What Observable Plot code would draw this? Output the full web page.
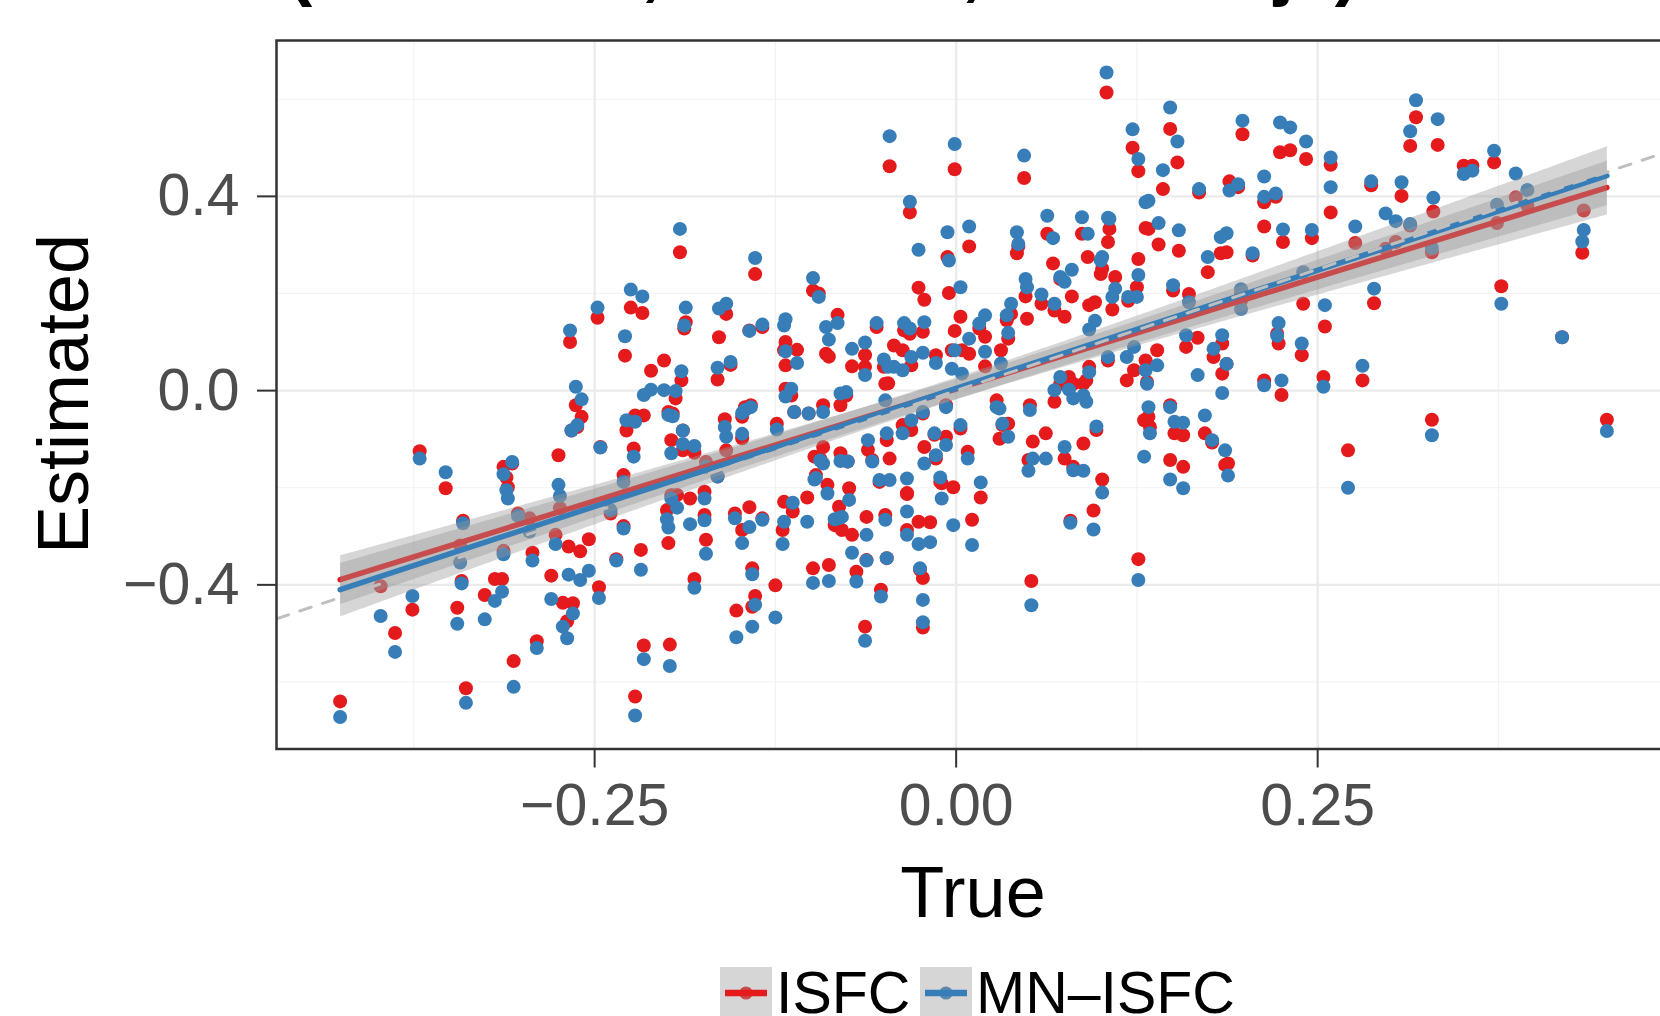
<!DOCTYPE html>
<html>
<head>
<meta charset="utf-8">
<script src="https://cdn.jsdelivr.net/npm/d3@7"></script>
<script src="https://cdn.jsdelivr.net/npm/@observablehq/plot@0.6"></script>
<style>
html, body { margin: 0; padding: 0; background: #fff; overflow: hidden; }
#wrap { position: relative; width: 1660px; height: 1016px; overflow: hidden;
  font-family: "Liberation Sans", Arial, Helvetica, sans-serif; color: #000; }
#chart { position: absolute; left: 0; top: 0; width: 1680px; }
#chart svg { max-width: none !important; }
#title { position: absolute; left: 288px; top: -70px; font-size: 73px; line-height: 73px;
  font-weight: bold; white-space: nowrap; }
#ylab { position: absolute; left: -237px; top: 358px; width: 600px; height: 72px;
  line-height: 72px; font-size: 72px; text-align: center; transform: rotate(-90deg); }
#xlab { position: absolute; left: 773px; top: 856px; width: 400px; font-size: 72px;
  line-height: 72px; text-align: center; }
.lkey { position: absolute; top: 967px; width: 52px; height: 52px; }
.ltxt { position: absolute; top: 968px; font-size: 59px; line-height: 50px; white-space: nowrap; }
#chart g[aria-label$="tick label"] { fill: #4d4d4d; }
</style>
</head>
<body>
<div id="wrap">
  <div id="chart"></div>
  <div id="title">(Gaussian, 300 TRs, 300 subjs)</div>
  <div id="ylab">Estimated</div>
  <div id="xlab">True</div>
  <div id="legend"></div>
</div>
<script>
// ---- data ----
const methods = ["ISFC", "MN\u2013ISFC"];
const methodColors = ["#e41a1c", "#377eb8"];

const trueValues = [
  // left / lower-left
  -0.426,-0.398,-0.388,-0.376,-0.371,-0.353,-0.343,-0.345,-0.342,-0.341,
  -0.339,-0.326,-0.319,-0.314,-0.313,-0.313,-0.311,-0.310,-0.307,-0.306,
  -0.303,-0.295,-0.293,-0.290,-0.280,-0.277,-0.275,-0.274,-0.272,-0.269,
  -0.265,-0.268,-0.260,-0.254,-0.247,-0.239,-0.235,-0.230,-0.230,-0.222,
  -0.218,-0.216,-0.198,-0.200,-0.199,-0.197,-0.193,-0.184,-0.181,-0.174,
  -0.174,-0.173,-0.165,-0.152,-0.153,-0.148,
  // left / upper
  -0.267,-0.263,-0.259,-0.266,-0.262,-0.248,-0.246,-0.229,-0.225,-0.217,
  -0.222,-0.216,-0.228,-0.223,-0.211,-0.202,-0.194,-0.199,-0.196,-0.191,
  -0.190,-0.188,-0.187,-0.197,-0.189,-0.189,-0.181,-0.173,-0.164,-0.159,
  -0.165,-0.156,-0.159,-0.160,-0.148,-0.148,
  // centre / upper
  -0.139,-0.143,-0.134,-0.118,-0.119,-0.118,-0.110,-0.099,-0.095,-0.090,
  -0.082,-0.088,-0.072,-0.063,-0.063,-0.055,-0.050,-0.043,-0.037,-0.047,
  -0.046,-0.032,-0.036,-0.032,-0.031,-0.026,-0.022,-0.023,-0.014,-0.006,
  -0.005,0.003,-0.001,-0.001,-0.003,0.004,0.009,0.016,0.020,0.009,
  0.020,0.035,0.036,0.031,0.038,0.042,0.043,0.047,0.048,0.049,
  0.059,0.063,0.067,0.068,0.072,0.075,0.080,0.087,0.091,0.092,
  0.096,0.100,0.101,0.105,0.106,0.110,0.108,0.104,0.122,0.126,
  0.126,0.125,0.119,0.131,0.133,0.140,0.143,0.148,0.153,0.154,
  0.150,0.161,0.168,0.174,
  // centre / middle
  -0.146,-0.142,-0.118,-0.114,-0.112,-0.102,-0.092,-0.080,-0.076,-0.049,
  -0.031,-0.023,-0.015,-0.007,0.028,0.032,0.051,0.068,0.072,0.078,
  0.081,0.088,0.090,0.092,0.105,0.118,0.123,0.131,0.139,0.132,
  0.133,0.148,0.159,0.167,0.172,0.151,0.134,
  // centre / lower
  -0.141,-0.139,-0.141,-0.125,-0.143,-0.134,-0.119,-0.120,-0.113,-0.103,
  -0.099,-0.088,-0.098,-0.089,-0.081,-0.084,-0.079,-0.074,-0.072,-0.069,
  -0.062,-0.062,-0.063,-0.052,-0.048,-0.049,-0.034,-0.034,-0.026,-0.025,
  -0.023,-0.023,-0.018,-0.010,-0.002,0.011,0.017,0.003,0.008,0.052,
  0.079,0.095,0.101,0.126,0.130,0.148,0.157,0.157,0.030,0.036,
  0.050,0.053,0.062,0.075,0.081,0.088,0.097,-0.124,-0.092,-0.094,
  -0.097,-0.080,-0.075,-0.061,-0.058,-0.053,-0.046,-0.048,-0.037,-0.034,
  -0.022,-0.014,-0.011,-0.007,
  // right
  0.198,0.224,0.231,0.242,0.259,0.259,0.189,0.195,0.213,0.213,
  0.221,0.226,0.246,0.183,0.187,0.205,0.276,0.287,0.297,0.304,
  0.308,0.314,0.318,0.333,0.330,0.329,0.351,0.357,0.372,0.387,
  0.395,0.374,0.434,0.433,0.377,0.419,0.289,0.281,0.254,0.255,
  0.240,0.239,0.223,0.225,0.213,0.197,0.197,0.184,0.184,0.187,
  0.178,0.314,0.450,0.329,0.271,0.188,0.186,0.177,0.222
];

const isfcValues = [
  -0.640,-0.403,-0.499,-0.451,-0.125,-0.201,-0.319,-0.447,-0.392,-0.268,
  -0.613,-0.421,-0.388,-0.388,-0.330,-0.157,-0.179,-0.199,-0.150,-0.557,
  -0.253,-0.263,-0.334,-0.516,-0.381,-0.297,-0.133,-0.242,-0.437,-0.475,
  -0.438,-0.321,-0.331,-0.306,-0.405,-0.253,-0.347,-0.174,-0.279,-0.630,
  -0.328,-0.525,-0.523,-0.246,-0.314,-0.215,-0.215,-0.222,-0.388,-0.208,
  -0.256,-0.307,-0.177,-0.453,-0.253,-0.287,
  0.100,-0.030,-0.054,-0.082,-0.075,0.150,-0.116,0.072,0.171,0.160,
  -0.051,-0.051,-0.082,-0.119,0.041,0.062,-0.016,-0.044,-0.047,0.285,
  0.021,0.128,0.141,-0.102,-0.082,-0.123,-0.128,-0.147,0.110,0.158,
  0.023,0.053,-0.123,-0.059,-0.054,-0.098,
  0.240,0.124,0.131,0.100,0.083,0.052,0.084,0.206,0.200,0.076,
  0.156,0.070,0.050,0.073,0.049,0.131,0.049,0.093,0.083,0.015,
  0.462,0.367,0.124,0.117,0.052,0.212,0.187,0.121,0.073,0.275,
  0.201,0.152,0.456,0.123,0.083,0.083,0.297,0.128,0.111,0.076,
  0.050,0.145,0.107,0.083,0.158,0.283,0.297,0.438,0.194,0.148,
  0.179,0.323,0.262,0.165,0.230,0.152,0.194,0.323,0.275,0.176,
  0.182,0.240,0.251,0.306,0.333,0.234,0.167,0.614,0.500,0.452,
  0.271,0.213,0.185,0.335,0.333,0.301,0.415,0.539,0.470,0.288,
  0.206,0.199,0.408,0.244,
  -0.034,-0.030,0.004,-0.010,-0.044,-0.047,-0.030,-0.030,-0.010,0.014,
  -0.081,-0.047,-0.091,-0.030,-0.020,-0.071,-0.030,-0.023,0.014,0.028,
  0.014,0.014,0.021,0.049,0.062,0.021,0.042,0.062,0.083,0.018,
  -0.054,-0.030,0.090,0.109,-0.088,-0.088,-0.075,
  -0.366,-0.423,-0.445,-0.401,-0.240,-0.263,-0.229,-0.287,-0.249,-0.220,
  -0.366,-0.359,-0.136,-0.194,-0.239,-0.277,-0.287,-0.201,-0.297,-0.373,
  -0.349,-0.260,-0.486,-0.410,-0.345,-0.256,-0.287,-0.213,-0.270,-0.369,
  -0.386,-0.488,-0.271,-0.191,-0.199,-0.266,-0.220,-0.078,-0.126,-0.392,
  -0.268,-0.247,-0.183,-0.347,-0.061,-0.143,-0.157,-0.092,-0.099,-0.068,
  -0.143,-0.105,-0.088,-0.140,-0.157,-0.109,-0.081,-0.068,-0.116,-0.140,
  -0.174,-0.129,-0.146,-0.122,-0.143,-0.188,-0.140,-0.102,-0.071,-0.211,
  -0.116,-0.140,-0.188,-0.095,
  0.528,0.491,0.495,0.477,0.465,0.367,0.431,0.419,0.388,0.338,
  0.399,0.306,0.314,0.283,0.285,0.278,0.304,0.423,0.292,0.306,
  0.401,0.504,0.563,0.506,0.369,0.285,0.463,0.463,0.470,0.398,
  0.381,0.345,0.371,0.284,0.215,0.110,0.180,0.021,0.028,0.132,
  0.179,0.073,0.097,-0.009,0.021,0.199,0.185,0.097,0.035,0.055,
  0.069,0.340,-0.060,-0.060,-0.123,-0.150,-0.153,-0.107,0.117
];

const mnIsfcValues = [
  -0.672,-0.464,-0.538,-0.423,-0.140,-0.168,-0.354,-0.480,-0.397,-0.273,
  -0.643,-0.471,-0.433,-0.414,-0.337,-0.172,-0.205,-0.222,-0.147,-0.610,
  -0.258,-0.290,-0.350,-0.530,-0.429,-0.316,-0.194,-0.217,-0.486,-0.510,
  -0.459,-0.379,-0.390,-0.371,-0.427,-0.246,-0.350,-0.188,-0.284,-0.669,
  -0.369,-0.553,-0.567,-0.265,-0.282,-0.222,-0.241,-0.275,-0.406,-0.222,
  -0.267,-0.336,-0.177,-0.508,-0.263,-0.314,
  0.124,0.008,-0.018,-0.082,-0.071,0.171,-0.117,0.112,0.208,0.194,
  -0.064,-0.009,-0.061,-0.136,0.002,0.001,-0.001,-0.050,-0.053,0.333,
  0.040,0.134,0.171,-0.129,-0.082,-0.110,-0.114,-0.157,0.169,0.179,
  0.047,0.059,-0.095,-0.075,-0.046,-0.089,
  0.273,0.123,0.136,0.147,0.134,0.081,0.057,0.232,0.193,0.131,
  0.139,0.105,0.086,0.099,0.032,0.139,0.064,0.049,0.042,0.049,
  0.524,0.389,0.139,0.128,0.069,0.290,0.141,0.078,0.057,0.326,
  0.268,0.213,0.508,0.083,0.045,0.035,0.338,0.138,0.155,0.107,
  0.080,0.155,0.119,0.056,0.179,0.326,0.302,0.484,0.230,0.213,
  0.198,0.360,0.314,0.179,0.234,0.224,0.249,0.357,0.323,0.126,
  0.144,0.268,0.275,0.356,0.354,0.210,0.193,0.655,0.538,0.477,
  0.238,0.193,0.193,0.388,0.391,0.345,0.454,0.583,0.513,0.330,
  0.217,0.182,0.415,0.275,
  -0.040,-0.034,-0.012,0.004,-0.044,-0.047,-0.044,-0.006,-0.003,-0.020,
  -0.061,-0.044,-0.088,-0.034,-0.034,-0.068,-0.040,0.001,0.028,0.002,
  -0.016,-0.010,-0.023,0.038,0.069,0.069,0.090,0.042,0.052,0.014,
  -0.034,-0.034,0.114,0.032,-0.051,-0.064,-0.088,
  -0.378,-0.441,-0.486,-0.467,-0.281,-0.266,-0.270,-0.316,-0.231,-0.270,
  -0.396,-0.392,-0.183,-0.212,-0.263,-0.265,-0.260,-0.225,-0.334,-0.393,
  -0.350,-0.297,-0.515,-0.424,-0.345,-0.266,-0.297,-0.249,-0.316,-0.366,
  -0.431,-0.477,-0.312,-0.222,-0.277,-0.318,-0.189,-0.071,-0.140,-0.442,
  -0.272,-0.286,-0.210,-0.390,-0.136,-0.183,-0.201,-0.066,-0.037,-0.095,
  -0.165,-0.140,-0.140,-0.116,-0.164,-0.165,-0.074,-0.080,-0.150,-0.144,
  -0.180,-0.145,-0.146,-0.102,-0.146,-0.184,-0.184,-0.088,-0.088,-0.181,
  -0.150,-0.133,-0.179,-0.112,
  0.556,0.552,0.542,0.513,0.480,0.419,0.412,0.425,0.441,0.399,
  0.406,0.332,0.331,0.316,0.324,0.283,0.338,0.431,0.365,0.349,
  0.429,0.534,0.598,0.559,0.397,0.294,0.446,0.453,0.494,0.447,
  0.413,0.383,0.331,0.307,0.179,0.110,0.210,0.051,0.008,0.176,
  0.244,0.097,0.139,0.021,0.011,0.209,0.168,0.114,-0.005,0.055,
  0.086,0.343,-0.083,-0.092,-0.200,-0.175,-0.123,-0.102,0.113
];

const xTicks = [-0.25, 0, 0.25];
const xMinorTicks = [-0.375, -0.125, 0.125, 0.375];
const yTicks = [-0.4, 0, 0.4];
const yMinorTicks = [-0.6, -0.2, 0.2, 0.6];
const identitySpan = [-0.8, 0.8];   // y = x reference line

if (trueValues.length !== isfcValues.length || trueValues.length !== mnIsfcValues.length) {
  throw new Error("length mismatch " + trueValues.length + " " + isfcValues.length + " " + mnIsfcValues.length);
}

// long table: ISFC first (drawn underneath), MN-ISFC second
const rows = [];
trueValues.forEach((t, i) => rows.push({truth: t, estimate: isfcValues[i], method: methods[0]}));
trueValues.forEach((t, i) => rows.push({truth: t, estimate: mnIsfcValues[i], method: methods[1]}));

const chart = Plot.plot({
  width: 1680,
  height: 940,
  marginTop: 40,
  marginLeft: 276,
  marginRight: 10,
  marginBottom: 191.5,
  x: {domain: [-0.470, 0.494]},
  y: {domain: [-0.738, 0.721]},
  color: {domain: methods, range: methodColors},
  style: {fontFamily: '"Liberation Sans", Arial, Helvetica, sans-serif', background: "white", maxWidth: "none"},
  marks: [
    Plot.gridX(xMinorTicks, {stroke: "#f2f2f2", strokeOpacity: 1, strokeWidth: 1.2}),
    Plot.gridY(yMinorTicks, {stroke: "#f2f2f2", strokeOpacity: 1, strokeWidth: 1.2}),
    Plot.gridX(xTicks, {stroke: "#ebebeb", strokeOpacity: 1, strokeWidth: 2.4}),
    Plot.gridY(yTicks, {stroke: "#ebebeb", strokeOpacity: 1, strokeWidth: 2.4}),
    Plot.dot(rows, {x: "truth", y: "estimate", fill: "method", r: 7}),
    Plot.linearRegressionY(rows, {x: "truth", y: "estimate", stroke: "method",
      fill: "#999999", fillOpacity: 0.4, strokeWidth: 5.5}),
    Plot.line(identitySpan, {x: d => d, y: d => d, stroke: "#bfbfbf", strokeWidth: 3,
      strokeDasharray: "12,12", clip: true}),
    Plot.frame({stroke: "#333333", strokeWidth: 2.5}),
    Plot.axisX(xTicks, {tickSize: 19, tickPadding: 15, fontSize: 59, tickFormat: d3.format(".2f"),
      stroke: "#333333", strokeWidth: 2, fill: "#4d4d4d", label: null}),
    Plot.axisY(yTicks, {tickSize: 19, tickPadding: 18, fontSize: 59, tickFormat: d3.format(".1f"),
      stroke: "#333333", strokeWidth: 2, fill: "#4d4d4d", label: null})
  ]
});
document.getElementById("chart").appendChild(chart);

// legend below the plot: gray key (smooth fill) with point and line
const legend = document.getElementById("legend");
const keyLefts = [720, 920];
const textLefts = [776, 976];
methods.forEach((m, i) => {
  const ns = "http://www.w3.org/2000/svg";
  const svg = document.createElementNS(ns, "svg");
  svg.setAttribute("class", "lkey");
  svg.setAttribute("width", 52); svg.setAttribute("height", 52);
  svg.style.left = keyLefts[i] + "px";
  const bg = document.createElementNS(ns, "rect");
  bg.setAttribute("width", 52); bg.setAttribute("height", 52); bg.setAttribute("fill", "#ffffff");
  const dot = document.createElementNS(ns, "circle");
  dot.setAttribute("cx", 26); dot.setAttribute("cy", 26); dot.setAttribute("r", 6.6);
  dot.setAttribute("fill", methodColors[i]);
  const rect = document.createElementNS(ns, "rect");
  rect.setAttribute("width", 52); rect.setAttribute("height", 52);
  rect.setAttribute("fill", "#999999"); rect.setAttribute("fill-opacity", 0.4);
  const line = document.createElementNS(ns, "line");
  line.setAttribute("x1", 5); line.setAttribute("x2", 47);
  line.setAttribute("y1", 26); line.setAttribute("y2", 26);
  line.setAttribute("stroke", methodColors[i]); line.setAttribute("stroke-width", 6.5);
  svg.append(bg, dot, rect, line);
  legend.appendChild(svg);
  const txt = document.createElement("div");
  txt.className = "ltxt";
  txt.style.left = textLefts[i] + "px";
  txt.textContent = m;
  legend.appendChild(txt);
});
</script>
</body>
</html>
